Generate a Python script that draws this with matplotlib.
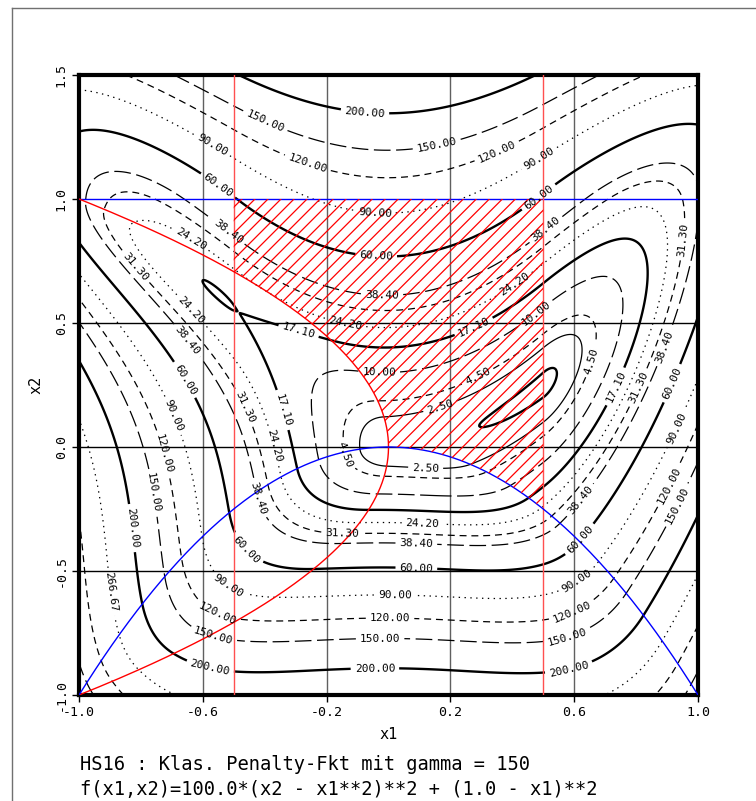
import numpy as np
import matplotlib
matplotlib.use('Agg')
import matplotlib.pyplot as plt
from matplotlib.path import Path
from matplotlib.patches import PathPatch
from matplotlib.lines import Line2D

plt.rcParams['font.family'] = ['DejaVu Sans Mono']
plt.rcParams['lines.scale_dashes'] = False

# HS16 problem, classical penalty function
gamma = 150.0
x1_lo, x1_hi, x2_hi = -0.5, 0.5, 1.0

levels = [0.5, 2.5, 4.5, 10.0, 17.1, 24.2, 31.3, 38.4, 60.0, 90.0,
          120.0, 150.0, 200.0, 266.67, 333.33, 400.0]
xticks = [-1.0, -0.6, -0.2, 0.2, 0.6, 1.0]
yticks = [-1.0, -0.5, 0.0, 0.5, 1.0, 1.5]
title_lines = ["HS16 : Klas. Penalty-Fkt mit gamma = 150",
               "f(x1,x2)=100.0*(x2 - x1**2)**2 + (1.0 - x1)**2"]

# where the contour labels sit
label_pos = {
    2.5: [(0.17, 0.15), (0.12, -0.085)],
    4.5: [(0.29, 0.28), (-0.14, -0.03), (0.65, 0.35)],
    10.0: [(-0.03, 0.30), (0.47, 0.55)],
    17.1: [(-0.29, 0.47), (-0.34, 0.15), (0.27, 0.50), (0.74, 0.24)],
    24.2: [(-0.64, 0.835), (-0.64, 0.55), (-0.54, -0.05), (-0.14, 0.49),
           (0.41, 0.65), (0.11, -0.31)],
    31.3: [(-0.82, 0.726), (-0.47, 0.157), (-0.15, -0.347), (0.958, 0.835),
           (0.84, 0.22)],
    38.4: [(-0.52, 0.867), (-0.65, 0.43), (-0.42, -0.206), (-0.02, 0.613),
           (0.09, -0.387), (0.51, 0.875), (0.625, -0.22), (0.89, 0.405)],
    60.0: [(-0.55, 1.056), (-0.66, 0.27), (-0.46, -0.415), (-0.04, 0.766),
           (0.09, -0.488), (0.48, 1.016), (0.628, -0.383), (0.92, 0.255)],
    90.0: [(-0.57, 1.218), (-0.706, 0.121), (-0.52, -0.565), (-0.044, 0.948),
           (0.02, -0.605), (0.49, 1.157), (0.612, -0.548), (0.942, 0.069)],
    120.0: [(-0.263, 1.137), (-0.80, -0.052), (-0.554, -0.67), (0.005, -0.69),
            (0.36, 1.165), (0.593, -0.665), (0.916, -0.161)],
    150.0: [(-0.40, 1.31), (-0.761, -0.185), (-0.567, -0.766), (-0.027, -0.79),
            (0.157, 1.218), (0.577, -0.766), (0.932, -0.234)],
    200.0: [(-0.076, 1.351), (-0.829, -0.327), (-0.577, -0.891),
            (-0.044, -0.891), (0.586, -0.911)],
    266.67: [(-0.9, -0.585)],
}

# line style cycle: thick solid, dotted, dashed, long dashed
thick = ('-', 1.7)
dot = ((0, (1.0, 3.2)), 0.9)
dash = ((0, (5.0, 3.5)), 0.9)
ldash = ((0, (12.0, 4.0)), 0.9)
thin = ('-', 0.9)
styles = [thick, thin, dash, ldash,
          thick, dot, dash, ldash,
          thick, dot, dash, ldash,
          thick, dot, dash, ldash]


def penalty(x1, x2):
    f = 100.0 * (x2 - x1**2)**2 + (1.0 - x1)**2
    g = [x1 + x2**2, x1**2 + x2, x1 - x1_lo, x1_hi - x1, x2_hi - x2]
    pen = sum(np.minimum(0.0, gi)**2 for gi in g)
    return f + gamma * pen


x = np.linspace(-1.0, 1.0, 501)
y = np.linspace(-1.0, 1.5, 626)
X, Y = np.meshgrid(x, y)
P = penalty(X, Y)

fig = plt.figure(figsize=(7.56, 8.01), dpi=100)
ax = fig.add_axes([79/756, 1-695/801, 619/756, 620/801])
ax.set_xlim(-1.0, 1.0)
ax.set_ylim(-1.0, 1.5)

# grid lines
for gx in [-0.6, -0.2, 0.2, 0.6]:
    ax.axvline(gx, color='#606060', lw=1.0, zorder=1)
for gy in [-0.5, 0.0, 0.5]:
    ax.axhline(gy, color='black', lw=1.0, zorder=1)
ax.axhline(x2_hi, color='blue', lw=1.0, zorder=3)
for gx in [x1_lo, x1_hi]:
    ax.axvline(gx, color='#ff5050', lw=1.0, zorder=3)

# contours
for lev, (ls, lw) in zip(levels, styles):
    cs = ax.contour(X, Y, P, levels=[lev], colors='black',
                    linewidths=lw, linestyles=[ls], zorder=2)
    if lev in label_pos:
        ax.clabel(cs, fmt='%.2f', fontsize=8, inline=True, inline_spacing=4,
                  manual=label_pos[lev])

# constraint curves
t = np.linspace(-1.0, 1.0, 300)
ax.plot(-t**2, t, color='red', lw=1.0, zorder=3)
ax.plot(t, -t**2, color='blue', lw=1.0, zorder=3)

# feasible region, hatched
s = np.sqrt(-x1_lo)
blue_part = np.linspace(x1_hi, 0.0, 100)
red_part = np.linspace(0.0, s, 100)
verts = [(x1_lo, x2_hi), (x1_hi, x2_hi)]
verts += [(u, -u**2) for u in blue_part]
verts += [(-v**2, v) for v in red_part]
verts += [(x1_lo, x2_hi)]
region = PathPatch(Path(verts), transform=ax.transData,
                   facecolor='none', edgecolor='none')
ax.add_patch(region)
fig.canvas.draw()
bb = ax.get_window_extent()
k = bb.width / bb.height
step = 13.0 / bb.width
for c in np.arange(-1.5, 1.5, step):
    ln = Line2D([0.0, 1.0], [c, c + k], transform=ax.transAxes,
                color='red', lw=0.9, zorder=3)
    ln.set_clip_path(region)
    ax.add_line(ln)

# axes look
for sp in ax.spines.values():
    sp.set_linewidth(3.0)
ax.set_xticks(xticks)
ax.set_yticks(yticks)
ax.set_xticklabels(['%.1f' % v for v in xticks], fontsize=9.5)
ax.set_yticklabels(['%.1f' % v for v in yticks], fontsize=9.5,
                   rotation=90, va='center')
ax.tick_params(direction='out', length=5, width=1.0, pad=3)
ax.set_xlabel('x1', fontsize=11, labelpad=6)
ax.set_ylabel('x2', fontsize=11, labelpad=8)

fig.text(80/756, 1-765/801, title_lines[0], fontsize=13.5, va='center')
fig.text(80/756, 1-790/801, title_lines[1], fontsize=13.5, va='center')

# outer page frame
fig.add_artist(Line2D([12/756, 12/756], [0.0, 1-8/801],
                      transform=fig.transFigure, color='#707070', lw=1.0))
fig.add_artist(Line2D([12/756, 1.0], [1-8/801, 1-8/801],
                      transform=fig.transFigure, color='#707070', lw=1.0))

fig.savefig('out.png', dpi=100)
